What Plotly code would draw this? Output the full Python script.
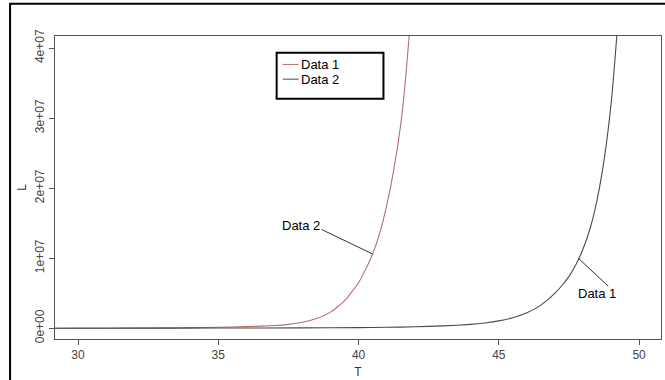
import plotly.graph_objects as go

# Data (L values in units of 1)
t_data2 = [29.0, 30.0, 31.0, 32.0, 33.0, 34.0, 35.0, 36.0, 37.0, 37.5, 38.0, 38.5, 39.0, 39.5,
           40.0, 40.25, 40.5, 40.75, 41.0, 41.25, 41.5, 41.65, 41.8, 42.0]
l_data2 = [0.0, 0.01e6, 0.02e6, 0.03e6, 0.05e6, 0.08e6, 0.13e6, 0.22e6, 0.38e6, 0.55e6, 0.85e6, 1.4e6,
           2.3e6, 3.9e6, 6.5e6, 8.4e6, 10.6e6, 13.5e6, 17.5e6, 22.5e6, 29.0e6, 34.5e6, 41.5e6, 50e6]

t_data1 = [29.0, 30.0, 32.0, 35.0, 38.0, 40.0, 41.0, 42.0, 43.0, 44.0, 44.5, 45.0, 45.5, 46.0,
           46.5, 47.0, 47.25, 47.5, 47.75, 48.0, 48.25, 48.5, 48.75, 49.0, 49.2, 49.4]
l_data1 = [0.0, 0.0, 0.01e6, 0.02e6, 0.05e6, 0.09e6, 0.13e6, 0.2e6, 0.33e6, 0.55e6, 0.75e6, 1.05e6,
           1.5e6, 2.2e6, 3.3e6, 5.0e6, 6.1e6, 7.4e6, 9.1e6, 11.3e6, 14.2e6, 18.3e6, 24.0e6, 32.0e6,
           41.5e6, 53e6]

x_ticks = [30, 35, 40, 45, 50]
y_ticks = [0, 1e7, 2e7, 3e7, 4e7]
y_tick_labels = ["0e+00", "1e+07", "2e+07", "3e+07", "4e+07"]
legend_names = ["Data 1", "Data 2"]

RED = "#b46e6e"
DARK = "#4a4a4a"
FONT = "Liberation Sans, Arial, sans-serif"

fig = go.Figure()
fig.add_trace(go.Scatter(x=t_data2, y=l_data2, mode="lines", name="Data 2",
                         line=dict(color=RED, width=1.1, shape="spline", smoothing=0.5),
                         showlegend=False))
fig.add_trace(go.Scatter(x=t_data1, y=l_data1, mode="lines", name="Data 1",
                         line=dict(color=DARK, width=1.1, shape="spline", smoothing=0.5),
                         showlegend=False))

W, H = 665, 380
ml, mr, mt, mb = 55, 3, 36, 35
pw, ph = W - ml - mr, H - mt - mb


def px(x):
    return (x - ml) / pw


def py(y):
    return (H - mb - y) / ph


shapes = []
# outer frame of the picture
shapes.append(dict(type="rect", xref="paper", yref="paper",
                   x0=px(10), x1=px(672), y0=py(390), y1=py(3),
                   line=dict(color="black", width=2), layer="below"))
# custom legend box
shapes.append(dict(type="rect", xref="paper", yref="paper",
                   x0=px(277), x1=px(384), y0=py(100), y1=py(53),
                   line=dict(color="black", width=2), fillcolor="white"))
legend_colors = [RED, DARK]
legend_y = [65, 80]
annotations = []
for name, col, yy in zip(legend_names, legend_colors, legend_y):
    shapes.append(dict(type="line", xref="paper", yref="paper",
                       x0=px(283), x1=px(299), y0=py(yy), y1=py(yy),
                       line=dict(color=col, width=1)))
    annotations.append(dict(xref="paper", yref="paper", x=px(299), y=py(yy),
                            text=name, showarrow=False, xanchor="left", yanchor="middle",
                            font=dict(family=FONT, size=13, color="black")))

# pointer lines for the curve labels
shapes.append(dict(type="line", xref="x", yref="y", x0=38.68, y0=14.1e6, x1=40.5, y1=10.6e6,
                   line=dict(color="#333333", width=1)))
shapes.append(dict(type="line", xref="x", yref="y", x0=47.83, y0=10.0e6, x1=48.9, y1=6.0e6,
                   line=dict(color="#333333", width=1)))
annotations.append(dict(x=37.95, y=14.7e6, xref="x", yref="y", text="Data 2", showarrow=False,
                        font=dict(family=FONT, size=13, color="black")))
annotations.append(dict(x=48.5, y=5.0e6, xref="x", yref="y", text="Data 1", showarrow=False,
                        font=dict(family=FONT, size=13, color="black")))

fig.update_layout(
    width=W, height=H,
    margin=dict(l=ml, r=mr, t=mt, b=mb),
    paper_bgcolor="white", plot_bgcolor="white",
    shapes=shapes, annotations=annotations,
    showlegend=False,
    font=dict(family=FONT, size=12, color="#444444"),
)
fig.update_xaxes(range=[29.18, 50.78], tickvals=x_ticks, showgrid=False, zeroline=False,
                 showline=True, mirror=True, linecolor="#555555", linewidth=1,
                 ticks="outside", ticklen=5, tickcolor="#555555",
                 tickfont=dict(size=12, color="#444444"),
                 title=dict(text="T", standoff=6, font=dict(size=12, color="#333333")))
fig.update_yaxes(range=[-1.54e6, 4.172e7], tickvals=y_ticks, ticktext=y_tick_labels,
                 tickangle=-90, showgrid=False, zeroline=False,
                 showline=True, mirror=True, linecolor="#555555", linewidth=1,
                 ticks="outside", ticklen=5, tickcolor="#555555",
                 tickfont=dict(size=12, color="#444444"),
                 title=dict(text="L", standoff=4, font=dict(size=12, color="#333333")))

fig.write_html("out.html")
